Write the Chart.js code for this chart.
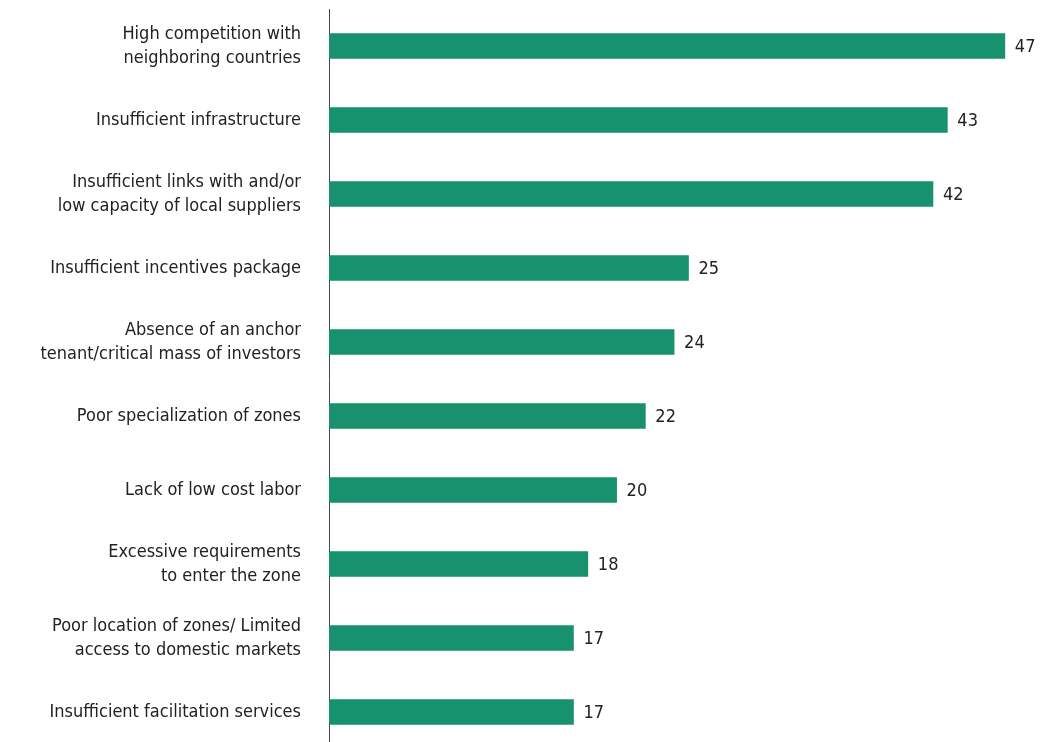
<!DOCTYPE html>
<html>
<head>
<meta charset="utf-8">
<script src="https://cdn.jsdelivr.net/npm/chart.js@4.4.1/dist/chart.umd.min.js"></script>
<style>
  html, body { margin: 0; padding: 0; background: #fff; overflow: hidden; }
  #wrap { width: 1052px; height: 750px; position: relative; }
</style>
</head>
<body>
<div id="wrap"><canvas id="chart"></canvas></div>
<script>
const categories = [
  ["High competition with", "neighboring countries"],
  "Insufficient infrastructure",
  ["Insufficient links with and/or", "low capacity of local suppliers"],
  "Insufficient incentives package",
  ["Absence of an anchor", "tenant/critical mass of investors"],
  "Poor specialization of zones",
  "Lack of low cost labor",
  ["Excessive requirements", "to enter the zone"],
  ["Poor location of zones/ Limited", "access to domestic markets"],
  "Insufficient facilitation services"
];
const values = [47, 43, 42, 25, 24, 22, 20, 18, 17, 17];

const FONT = "'Liberation Sans Narrow', 'DejaVu Sans Condensed', 'Liberation Sans', sans-serif";

// numbers at the end of each bar
const valueLabels = {
  id: "valueLabels",
  afterDatasetsDraw(chart) {
    const c = chart.ctx;
    const meta = chart.getDatasetMeta(0);
    c.save();
    c.font = "18px " + FONT;
    c.fillStyle = "#222";
    c.textAlign = "left";
    c.textBaseline = "middle";
    meta.data.forEach((bar, i) => {
      c.fillText(values[i], bar.x + 10, bar.y + 1);
    });
    c.restore();
  }
};

new Chart(document.getElementById("chart"), {
  type: "bar",
  data: {
    labels: categories,
    datasets: [{
      data: values,
      backgroundColor: "#17916e",
      barThickness: 25
    }]
  },
  options: {
    indexAxis: "y",
    responsive: true,
    maintainAspectRatio: false,
    animation: false,
    layout: { padding: { top: 9, bottom: 1, right: 4, left: 0 } },
    plugins: { legend: { display: false }, tooltip: { enabled: false } },
    scales: {
      x: {
        min: 0,
        max: 50,
        display: false,
        grid: { display: false }
      },
      y: {
        grid: { display: false, drawTicks: false },
        border: { display: true, color: "#444", width: 1 },
        ticks: {
          color: "#222",
          padding: 28,
          font: { family: FONT, size: 18, lineHeight: 1.33 }
        },
        afterFit(scale) {
          scale.width = 329;
          scale.paddingTop = 0;
          scale.paddingBottom = 0;
        }
      }
    }
  },
  plugins: [valueLabels]
});
</script>
</body>
</html>
